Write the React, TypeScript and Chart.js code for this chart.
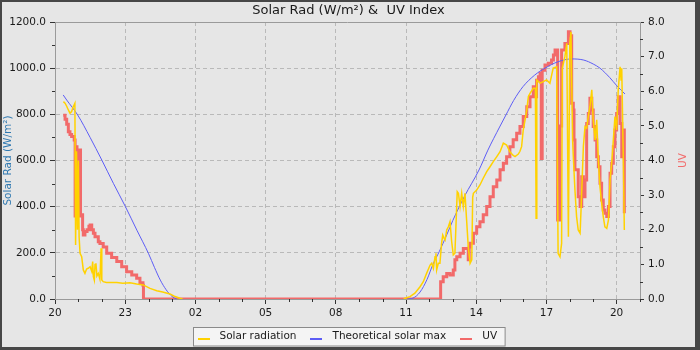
import { useEffect, useRef } from "react";
import { Chart, registerables } from "chart.js";

Chart.register(...registerables);

// hours are counted from 20:00 on the first day
const START_HOUR = 20;
const X_MAX = 25;

const TITLE = "Solar Rad (W/m²) &  UV Index";
const LEFT_TITLE = "Solar Rad (W/m²)";
const RIGHT_TITLE = "UV";
const SERIES_LABELS = ["Solar radiation", "Theoretical solar max", "UV"];

const solarRadiation: [number, number | null][] = [
  [0.36, 855], [0.43, 848], [0.5, 835], [0.57, 819], [0.64, 805], [0.71, 812], [0.78, 833], [0.85, 848],
  [0.88, 234], [0.92, 640], [0.96, 300], [1.0, 600], [1.03, 270], [1.07, 198], [1.14, 183], [1.21, 126],
  [1.28, 111], [1.35, 130], [1.42, 133], [1.5, 140], [1.57, 120], [1.61, 162], [1.64, 97], [1.68, 82],
  [1.71, 150], [1.75, 155], [1.79, 100], [1.85, 111], [1.92, 85], [1.97, 220], [2.0, 82], [2.06, 75],
  [2.2, 72], [2.4, 72], [2.64, 71], [2.9, 68], [3.2, 70], [3.49, 65], [3.77, 61], [4.06, 46], [4.35, 36],
  [4.6, 30], [4.91, 22], [5.1, 12], [5.34, 3], [5.45, 0], [10, null],
  [14.9, 0], [14.96, 3], [15.17, 10], [15.38, 25], [15.6, 53], [15.74, 75], [15.88, 111], [16.03, 147],
  [16.1, 155], [16.17, 133], [16.24, 183], [16.28, 198], [16.31, 126], [16.38, 155], [16.45, 155],
  [16.52, 241], [16.57, 277], [16.62, 265], [16.67, 256], [16.74, 299], [16.81, 313], [16.88, 335],
  [16.95, 250], [17.02, 191], [17.09, 198], [17.15, 357], [17.19, 465], [17.24, 458], [17.31, 400],
  [17.38, 458], [17.45, 400], [17.52, 458], [17.59, 342], [17.66, 227], [17.74, 155], [17.81, 170],
  [17.85, 440], [17.88, 458], [18.02, 472], [18.16, 494], [18.3, 523], [18.45, 552], [18.59, 573],
  [18.73, 595], [18.88, 617], [19.02, 638], [19.16, 675], [19.3, 667], [19.44, 638], [19.58, 622],
  [19.66, 617], [19.8, 628], [19.87, 640], [19.94, 660], [20.01, 732], [20.09, 776], [20.16, 819],
  [20.23, 877], [20.3, 891], [20.44, 913], [20.53, 913], [20.56, 350], [20.59, 949], [20.73, 935],
  [20.87, 942], [21.01, 949], [21.15, 935], [21.29, 1000], [21.44, 1006], [21.5, 198], [21.58, 183],
  [21.65, 241], [21.68, 1000], [21.79, 1050], [21.87, 1108], [21.94, 270], [22.0, 1108], [22.05, 1157],
  [22.12, 689], [22.15, 617], [22.22, 472], [22.29, 357], [22.36, 299], [22.44, 285], [22.48, 386],
  [22.58, 660], [22.65, 747], [22.72, 740], [22.79, 790], [22.86, 833], [22.94, 906], [23.0, 776],
  [23.08, 689], [23.15, 776], [23.22, 602], [23.29, 487], [23.36, 415], [23.43, 357], [23.5, 313],
  [23.58, 306], [23.65, 342], [23.72, 516], [23.79, 588], [23.86, 689], [23.93, 790], [24.0, 732],
  [24.07, 906], [24.15, 1006], [24.19, 949], [24.22, 1000], [24.29, 588], [24.33, 299],
];

const theoreticalMax: [number, number | null][] = [
  [0.35, 884], [0.5, 862], [0.97, 797], [1.5, 700], [2.0, 602], [2.5, 500], [3.0, 402], [3.5, 298],
  [4.0, 196], [4.25, 137], [4.5, 82], [4.75, 40], [5.0, 11], [5.2, 0], [10, null],
  [15.04, 0], [15.3, 4], [15.6, 30], [15.9, 85], [16.15, 150], [16.42, 205], [16.75, 280], [17.0, 340],
  [17.5, 445], [18.12, 559], [18.5, 645], [19.0, 745], [19.27, 797], [19.6, 860], [20.0, 920],
  [20.5, 970], [20.94, 1000], [21.5, 1028], [22.09, 1040], [22.6, 1035], [23.0, 1018], [23.29, 1000],
  [23.7, 960], [24.0, 925], [24.36, 888],
];

const uvIndex: [number, number][] = [
  [0.35, 5.31], [0.43, 5.19], [0.5, 5.05], [0.57, 4.83], [0.64, 4.75], [0.71, 4.69], [0.82, 4.59],
  [0.86, 2.4], [0.9, 4.4], [0.94, 4.25], [0.98, 3.6], [1.03, 4.3], [1.09, 2.4], [1.14, 2.43], [1.18, 2.0],
  [1.21, 1.85], [1.28, 1.95], [1.37, 2.0], [1.45, 2.1], [1.5, 2.14], [1.57, 2.0], [1.64, 1.9], [1.71, 1.8],
  [1.85, 1.65], [1.92, 1.6], [2.06, 1.5], [2.21, 1.32], [2.42, 1.2], [2.64, 1.08], [2.85, 0.93],
  [3.06, 0.79], [3.28, 0.69], [3.49, 0.6], [3.63, 0.47], [3.76, 0.4], [3.78, 0], [16.46, 0],
  [16.48, 0.5], [16.59, 0.64], [16.74, 0.74], [16.88, 0.69], [17.02, 0.84], [17.09, 1.13], [17.17, 1.22],
  [17.31, 1.32], [17.45, 1.46], [17.59, 1.46], [17.66, 1.13], [17.7, 1.5], [17.74, 1.61], [17.88, 1.9],
  [18.02, 2.09], [18.16, 2.23], [18.3, 2.43], [18.45, 2.67], [18.59, 2.95], [18.73, 3.24], [18.88, 3.44],
  [19.02, 3.73], [19.16, 3.92], [19.3, 4.11], [19.44, 4.4], [19.58, 4.6], [19.73, 4.79], [19.87, 4.98],
  [20.01, 5.27], [20.16, 5.55], [20.3, 5.84], [20.44, 6.13], [20.51, 5.84], [20.58, 6.32], [20.66, 6.42],
  [20.73, 6.52], [20.78, 4.06], [20.82, 6.61], [20.94, 6.76], [21.08, 6.81], [21.22, 6.9], [21.3, 7.05],
  [21.37, 7.19], [21.44, 7.19], [21.48, 2.28], [21.58, 5.0], [21.65, 7.19], [21.79, 7.38], [21.94, 7.72],
  [22.01, 7.6], [22.08, 5.65], [22.15, 5.46], [22.18, 4.59], [22.22, 3.73], [22.29, 3.73], [22.36, 2.95],
  [22.44, 2.67], [22.51, 3.53], [22.58, 2.95], [22.65, 3.44], [22.72, 5.07], [22.79, 5.36], [22.86, 5.8],
  [22.94, 5.46], [23.0, 4.98], [23.08, 4.59], [23.15, 4.11], [23.22, 3.82], [23.29, 3.34], [23.36, 2.86],
  [23.43, 2.57], [23.5, 2.48], [23.58, 2.38], [23.65, 2.67], [23.72, 3.63], [23.79, 3.92], [23.86, 4.4],
  [23.93, 4.88], [24.0, 5.36], [24.07, 5.84], [24.15, 5.07], [24.22, 4.11], [24.29, 4.88], [24.33, 2.48],
];

const FONT = "DejaVu Sans";
const YELLOW = "#ffd200";
const BLUE = "#5d5df5";
const RED = "#f26a6a";
const LEFT_TITLE_COLOR = "#2e78b0";
const GRID = "#b9b9b9";
const AXIS = "#9a9a9a";
const TEXT = "#1a1a1a";
const TICK = "#333333";

const toPoints = (arr: [number, number | null][]) => arr.map(([x, y]) => ({ x, y }));

const isMajor = (id: string, v: number) => {
  if (id === "x") return v % 3 === 0;
  if (id === "y") return v % 200 === 0;
  return Number.isInteger(v);
};

export default function App() {
  const ref = useRef<HTMLCanvasElement>(null);

  useEffect(() => {
    const canvas = ref.current;
    if (!canvas) return;

    const framePlugin = {
      id: "frameTop",
      beforeDatasetsDraw(chart: any) {
        const { ctx, chartArea: a } = chart;
        ctx.save();
        ctx.strokeStyle = AXIS;
        ctx.lineWidth = 1;
        ctx.beginPath();
        const y = Math.round(a.top) + 0.5;
        ctx.moveTo(a.left, y);
        ctx.lineTo(a.right, y);
        ctx.stroke();
        ctx.restore();
      },
    };

    const extrasPlugin = {
      id: "extras",
      afterDraw(chart: any) {
        const { ctx, chartArea: a, width, height } = chart;

        // short minor tick marks
        ctx.save();
        ctx.strokeStyle = TICK;
        ctx.lineWidth = 1;
        ctx.beginPath();
        ["x", "y", "yUV"].forEach((id) => {
          const s = chart.scales[id];
          s.ticks.forEach((t: any) => {
            if (isMajor(id, t.value)) return;
            const p = Math.round(s.getPixelForValue(t.value)) + 0.5;
            if (id === "x") {
              ctx.moveTo(p, a.bottom);
              ctx.lineTo(p, a.bottom + 3);
            } else if (id === "y") {
              ctx.moveTo(a.left, p);
              ctx.lineTo(a.left - 3, p);
            } else {
              ctx.moveTo(a.right, p);
              ctx.lineTo(a.right + 3, p);
            }
          });
        });
        ctx.stroke();
        ctx.restore();

        // right axis title, reading bottom to top
        ctx.save();
        ctx.font = `10.5px "${FONT}"`;
        ctx.fillStyle = RED;
        ctx.translate(width - 12, (a.top + a.bottom) / 2);
        ctx.rotate(-Math.PI / 2);
        ctx.textAlign = "center";
        ctx.textBaseline = "middle";
        ctx.fillText(RIGHT_TITLE, 0, 0);
        ctx.restore();

        // legend box
        const colors = chart.data.datasets.map((d: any) => d.borderColor);
        ctx.save();
        ctx.font = `10.5px "${FONT}"`;
        const sw = 12, gapST = 10, gapItems = 14, padL = 4, padR = 8;
        const widths = SERIES_LABELS.map((t) => ctx.measureText(t).width);
        let total = padL + padR;
        widths.forEach((w, i) => {
          total += sw + gapST + w + (i > 0 ? gapItems : 0);
        });
        const bx = Math.round(width / 2 - total / 2) + 0.5;
        const by = Math.round(a.bottom + 28) + 0.5;
        const bh = height - 1 - by;
        ctx.fillStyle = "#f4f4f4";
        ctx.fillRect(bx, by, total, bh);
        ctx.strokeStyle = "#8a8a8a";
        ctx.lineWidth = 1;
        ctx.strokeRect(bx, by, total, bh);
        const mid = by + bh / 2;
        let x = bx + padL;
        ctx.textBaseline = "middle";
        ctx.textAlign = "left";
        SERIES_LABELS.forEach((t, i) => {
          if (i > 0) x += gapItems;
          ctx.fillStyle = colors[i];
          ctx.fillRect(Math.round(x), Math.round(mid) + 1, sw, 2);
          x += sw + gapST;
          ctx.fillStyle = TEXT;
          ctx.fillText(t, x, mid);
          x += widths[i];
        });
        ctx.restore();
      },
    };

    const tickFont = { family: FONT, size: 10.5 };
    const majorTickColor = (id: string) => (c: any) =>
      c.tick && isMajor(id, c.tick.value) ? TICK : "rgba(0,0,0,0)";

    const chart = new Chart(canvas, {
      type: "line",
      data: {
        datasets: [
          {
            label: SERIES_LABELS[0],
            data: toPoints(solarRadiation) as any,
            borderColor: YELLOW,
            backgroundColor: YELLOW,
            borderWidth: 1.5,
            pointRadius: 0,
            spanGaps: false,
            yAxisID: "y",
          },
          {
            label: SERIES_LABELS[1],
            data: toPoints(theoreticalMax) as any,
            borderColor: BLUE,
            backgroundColor: BLUE,
            borderWidth: 1,
            pointRadius: 0,
            cubicInterpolationMode: "monotone",
            spanGaps: false,
            yAxisID: "y",
          },
          {
            label: SERIES_LABELS[2],
            data: toPoints(uvIndex) as any,
            borderColor: RED,
            backgroundColor: RED,
            borderWidth: 3,
            pointRadius: 0,
            stepped: true,
            yAxisID: "yUV",
          },
        ],
      },
      options: {
        responsive: false,
        animation: false,
        events: [],
        layout: { padding: 0 },
        plugins: {
          legend: { display: false },
          tooltip: { enabled: false },
          title: {
            display: true,
            text: TITLE,
            color: TEXT,
            font: { family: FONT, size: 13, weight: "normal" },
            padding: { top: 1, bottom: 3.4 },
          },
        },
        scales: {
          x: {
            type: "linear",
            min: 0,
            max: X_MAX,
            afterFit: (s: any) => {
              s.height = 48;
            },
            border: { color: AXIS, dash: [4, 3] },
            grid: {
              color: (c: any) => (c.tick && c.tick.value % 3 === 0 ? GRID : "rgba(0,0,0,0)"),
              tickColor: majorTickColor("x"),
              tickLength: 5,
            },
            ticks: {
              stepSize: 1,
              autoSkip: false,
              maxTicksLimit: 100,
              maxRotation: 0,
              padding: 3,
              color: TEXT,
              font: tickFont,
              callback: (v: any) =>
                Number(v) % 3 === 0 ? String((START_HOUR + Number(v)) % 24).padStart(2, "0") : "",
            },
          },
          y: {
            type: "linear",
            position: "left",
            min: 0,
            max: 1200,
            afterFit: (s: any) => {
              s.width = 53;
            },
            border: { color: AXIS, dash: [4, 3] },
            grid: {
              color: (c: any) => (c.tick && c.tick.value % 200 === 0 ? GRID : "rgba(0,0,0,0)"),
              tickColor: majorTickColor("y"),
              tickLength: 5,
            },
            title: {
              display: true,
              text: LEFT_TITLE,
              color: LEFT_TITLE_COLOR,
              font: tickFont,
              padding: { top: 0, bottom: 0 },
            },
            ticks: {
              stepSize: 100,
              maxTicksLimit: 100,
              autoSkip: false,
              padding: 4,
              color: TEXT,
              font: tickFont,
              callback: (v: any) => (Number(v) % 200 === 0 ? Number(v).toFixed(1) : ""),
            },
          },
          yUV: {
            type: "linear",
            position: "right",
            min: 0,
            max: 8,
            afterFit: (s: any) => {
              s.width = 55;
            },
            border: { color: AXIS },
            grid: { drawOnChartArea: false, tickColor: majorTickColor("yUV"), tickLength: 4 },
            ticks: {
              stepSize: 0.5,
              maxTicksLimit: 100,
              autoSkip: false,
              padding: 4,
              color: TEXT,
              font: tickFont,
              callback: (v: any) => (Number.isInteger(Number(v)) ? Number(v).toFixed(1) : ""),
            },
          },
        },
      } as any,
      plugins: [framePlugin, extrasPlugin],
    });

    return () => chart.destroy();
  }, []);

  return (
    <div
      style={{
        position: "fixed",
        left: 0,
        top: 0,
        width: 700,
        height: 350,
        background: "#474747",
      }}
    >
      <div
        style={{
          position: "absolute",
          left: 2,
          top: 2,
          width: 693,
          height: 345,
          background: "#e6e6e6",
        }}
      >
        <canvas ref={ref} width={693} height={345} style={{ display: "block" }} />
      </div>
    </div>
  );
}
